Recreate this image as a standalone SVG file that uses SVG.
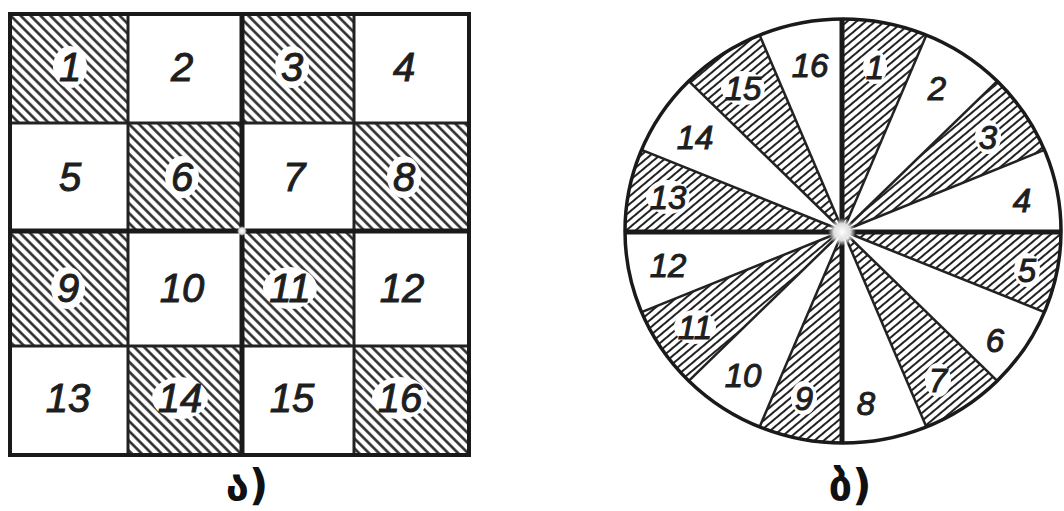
<svg xmlns="http://www.w3.org/2000/svg" width="1064" height="511" viewBox="0 0 1064 511">
  <defs>
    <pattern id="hatchGrid" patternUnits="userSpaceOnUse" width="7" height="10" patternTransform="rotate(-45)">
      <line x1="3.5" y1="0" x2="3.5" y2="10" stroke="#222" stroke-width="2.5"/>
    </pattern>
    <pattern id="hatchCircle" patternUnits="userSpaceOnUse" width="6" height="10" patternTransform="rotate(50)">
      <line x1="3" y1="0" x2="3" y2="10" stroke="#222" stroke-width="2"/>
    </pattern>
    <radialGradient id="glow">
      <stop offset="0" stop-color="#fff" stop-opacity="1"/>
      <stop offset="0.6" stop-color="#fff" stop-opacity="0.85"/>
      <stop offset="1" stop-color="#fff" stop-opacity="0"/>
    </radialGradient>
  </defs>
  <style>
    .hg { fill: url(#hatchGrid); stroke: none; }
    .hc { fill: url(#hatchCircle); stroke: none; }
    .wc { fill: #fff; stroke: none; }
    .patch { fill: #fff; stroke: none; }
    .num { font-family: "Liberation Sans", Arial, sans-serif; font-style: italic; fill: #1e1e1e; stroke: #1e1e1e; stroke-width: 1; text-anchor: middle; }
    .g { font-size: 40px; }
    .c { font-size: 33px; }
    .thin { stroke: #222; stroke-width: 3; fill: none; }
    .thick { stroke: #1a1a1a; stroke-width: 5; fill: none; }
    .ray { stroke: #222; stroke-width: 2.5; fill: none; }
    .cap { font-family: "DejaVu Sans", "Noto Sans", sans-serif; font-size: 42px; font-weight: bold; fill: #111; text-anchor: middle; }
  </style>
  <rect x="0" y="0" width="1064" height="511" fill="#fff"/>

  <!-- Left: grid -->
  <g id="grid">
    <g id="cell-1"><rect class="hg" x="10" y="14" width="118" height="109"/><ellipse class="patch" cx="70" cy="67" rx="17" ry="21"/><text class="num g" x="70" y="81">1</text></g>
    <g id="cell-2"><rect class="wc" x="128" y="14" width="114" height="109"/><text class="num g" x="182" y="81">2</text></g>
    <g id="cell-3"><rect class="hg" x="242" y="14" width="112" height="109"/><ellipse class="patch" cx="292" cy="67" rx="17" ry="21"/><text class="num g" x="292" y="81">3</text></g>
    <g id="cell-4"><rect class="wc" x="354" y="14" width="115" height="109"/><text class="num g" x="404" y="81">4</text></g>

    <g id="cell-5"><rect class="wc" x="10" y="123" width="118" height="108"/><text class="num g" x="70" y="191">5</text></g>
    <g id="cell-6"><rect class="hg" x="128" y="123" width="114" height="108"/><ellipse class="patch" cx="182" cy="177" rx="17" ry="21"/><text class="num g" x="182" y="191">6</text></g>
    <g id="cell-7"><rect class="wc" x="242" y="123" width="112" height="108"/><text class="num g" x="294" y="191">7</text></g>
    <g id="cell-8"><rect class="hg" x="354" y="123" width="115" height="108"/><ellipse class="patch" cx="404" cy="177" rx="17" ry="21"/><text class="num g" x="404" y="191">8</text></g>

    <g id="cell-9"><rect class="hg" x="10" y="231" width="118" height="115"/><ellipse class="patch" cx="68" cy="288" rx="17" ry="21"/><text class="num g" x="68" y="302">9</text></g>
    <g id="cell-10"><rect class="wc" x="128" y="231" width="114" height="115"/><text class="num g" x="182" y="302">10</text></g>
    <g id="cell-11"><rect class="hg" x="242" y="231" width="112" height="115"/><ellipse class="patch" cx="290" cy="288" rx="27" ry="21"/><text class="num g" x="290" y="302">11</text></g>
    <g id="cell-12"><rect class="wc" x="354" y="231" width="115" height="115"/><text class="num g" x="402" y="302">12</text></g>

    <g id="cell-13"><rect class="wc" x="10" y="346" width="118" height="109"/><text class="num g" x="68" y="412">13</text></g>
    <g id="cell-14"><rect class="hg" x="128" y="346" width="114" height="109"/><ellipse class="patch" cx="180" cy="398" rx="28" ry="21"/><text class="num g" x="180" y="412">14</text></g>
    <g id="cell-15"><rect class="wc" x="242" y="346" width="112" height="109"/><text class="num g" x="292" y="412">15</text></g>
    <g id="cell-16"><rect class="hg" x="354" y="346" width="115" height="109"/><ellipse class="patch" cx="400" cy="398" rx="28" ry="21"/><text class="num g" x="400" y="412">16</text></g>

    <g id="grid-lines">
      <line class="thin" x1="128" y1="14" x2="128" y2="455"/>
      <line class="thin" x1="354" y1="14" x2="354" y2="455"/>
      <line class="thin" x1="10" y1="123" x2="469" y2="123"/>
      <line class="thin" x1="10" y1="346" x2="469" y2="346"/>
      <line class="thick" x1="242" y1="14" x2="242" y2="455"/>
      <line class="thick" x1="10" y1="231" x2="469" y2="231"/>
      <rect x="10" y="14" width="459" height="441" fill="none" stroke="#1a1a1a" stroke-width="4"/>
      <circle cx="242" cy="231" r="5" fill="url(#glow)"/>
    </g>
  </g>

  <!-- Right: circle -->
  <g id="disc">
    <g id="sector-1"><path class="hc" d="M843,231 L843,19 A218,212 0 0 1 926.4,35.1 Z"/><ellipse class="patch" cx="875" cy="67" rx="12" ry="17"/><text class="num c" x="875" y="79">1</text></g>
    <g id="sector-2"><path class="wc" d="M843,231 L926.4,35.1 A218,212 0 0 1 997.2,81.1 Z"/><text class="num c" x="937" y="100">2</text></g>
    <g id="sector-3"><path class="hc" d="M843,231 L997.2,81.1 A218,212 0 0 1 1044.4,149.9 Z"/><ellipse class="patch" cx="988" cy="137" rx="13" ry="17"/><text class="num c" x="988" y="149">3</text></g>
    <g id="sector-4"><path class="wc" d="M843,231 L1044.4,149.9 A218,212 0 0 1 1061,231 Z"/><text class="num c" x="1022" y="212">4</text></g>
    <g id="sector-5"><path class="hc" d="M843,231 L1061,231 A218,212 0 0 1 1044.4,312.1 Z"/><ellipse class="patch" cx="1027" cy="270" rx="13" ry="17"/><text class="num c" x="1027" y="282">5</text></g>
    <g id="sector-6"><path class="wc" d="M843,231 L1044.4,312.1 A218,212 0 0 1 997.2,380.9 Z"/><text class="num c" x="995" y="352">6</text></g>
    <g id="sector-7"><path class="hc" d="M843,231 L997.2,380.9 A218,212 0 0 1 926.4,426.9 Z"/><ellipse class="patch" cx="938" cy="380" rx="13" ry="17"/><text class="num c" x="938" y="392">7</text></g>
    <g id="sector-8"><path class="wc" d="M843,231 L926.4,426.9 A218,212 0 0 1 843,443 Z"/><text class="num c" x="866" y="415">8</text></g>
    <g id="sector-9"><path class="hc" d="M843,231 L843,443 A218,212 0 0 1 759.6,426.9 Z"/><ellipse class="patch" cx="804" cy="398" rx="13" ry="17"/><text class="num c" x="804" y="410">9</text></g>
    <g id="sector-10"><path class="wc" d="M843,231 L759.6,426.9 A218,212 0 0 1 688.8,380.9 Z"/><text class="num c" x="743" y="387">10</text></g>
    <g id="sector-11"><path class="hc" d="M843,231 L688.8,380.9 A218,212 0 0 1 641.6,312.1 Z"/><ellipse class="patch" cx="695" cy="327" rx="21" ry="17"/><text class="num c" x="695" y="339">11</text></g>
    <g id="sector-12"><path class="wc" d="M843,231 L641.6,312.1 A218,212 0 0 1 625,231 Z"/><text class="num c" x="668" y="277">12</text></g>
    <g id="sector-13"><path class="hc" d="M843,231 L625,231 A218,212 0 0 1 641.6,149.9 Z"/><ellipse class="patch" cx="668" cy="197" rx="22" ry="17"/><text class="num c" x="668" y="209">13</text></g>
    <g id="sector-14"><path class="wc" d="M843,231 L641.6,149.9 A218,212 0 0 1 688.8,81.1 Z"/><text class="num c" x="695" y="149">14</text></g>
    <g id="sector-15"><path class="hc" d="M843,231 L688.8,81.1 A218,212 0 0 1 759.6,35.1 Z"/><ellipse class="patch" cx="743" cy="88" rx="22" ry="17"/><text class="num c" x="743" y="100">15</text></g>
    <g id="sector-16"><path class="wc" d="M843,231 L759.6,35.1 A218,212 0 0 1 843,19 Z"/><text class="num c" x="810" y="77">16</text></g>

    <g id="disc-lines">
      <line class="ray" x1="843" y1="231" x2="926.4" y2="35.1"/>
      <line class="ray" x1="843" y1="231" x2="997.2" y2="81.1"/>
      <line class="ray" x1="843" y1="231" x2="1044.4" y2="149.9"/>
      <line class="ray" x1="843" y1="231" x2="1044.4" y2="312.1"/>
      <line class="ray" x1="843" y1="231" x2="997.2" y2="380.9"/>
      <line class="ray" x1="843" y1="231" x2="926.4" y2="426.9"/>
      <line class="ray" x1="843" y1="231" x2="759.6" y2="426.9"/>
      <line class="ray" x1="843" y1="231" x2="688.8" y2="380.9"/>
      <line class="ray" x1="843" y1="231" x2="641.6" y2="312.1"/>
      <line class="ray" x1="843" y1="231" x2="641.6" y2="149.9"/>
      <line class="ray" x1="843" y1="231" x2="688.8" y2="81.1"/>
      <line class="ray" x1="843" y1="231" x2="759.6" y2="35.1"/>
      <line class="thick" x1="842" y1="19" x2="842" y2="443" stroke-width="6"/>
      <line class="thick" x1="625" y1="232" x2="1061" y2="232" stroke-width="6"/>
      <ellipse cx="843" cy="231" rx="218" ry="212" fill="none" stroke="#1a1a1a" stroke-width="3.5"/>
      <circle cx="842" cy="232" r="14" fill="url(#glow)"/>
    </g>
  </g>

  <g id="captions">
    <text class="cap" x="247" y="500">ა)</text>
    <text class="cap" x="850" y="500">ბ)</text>
  </g>
</svg>
